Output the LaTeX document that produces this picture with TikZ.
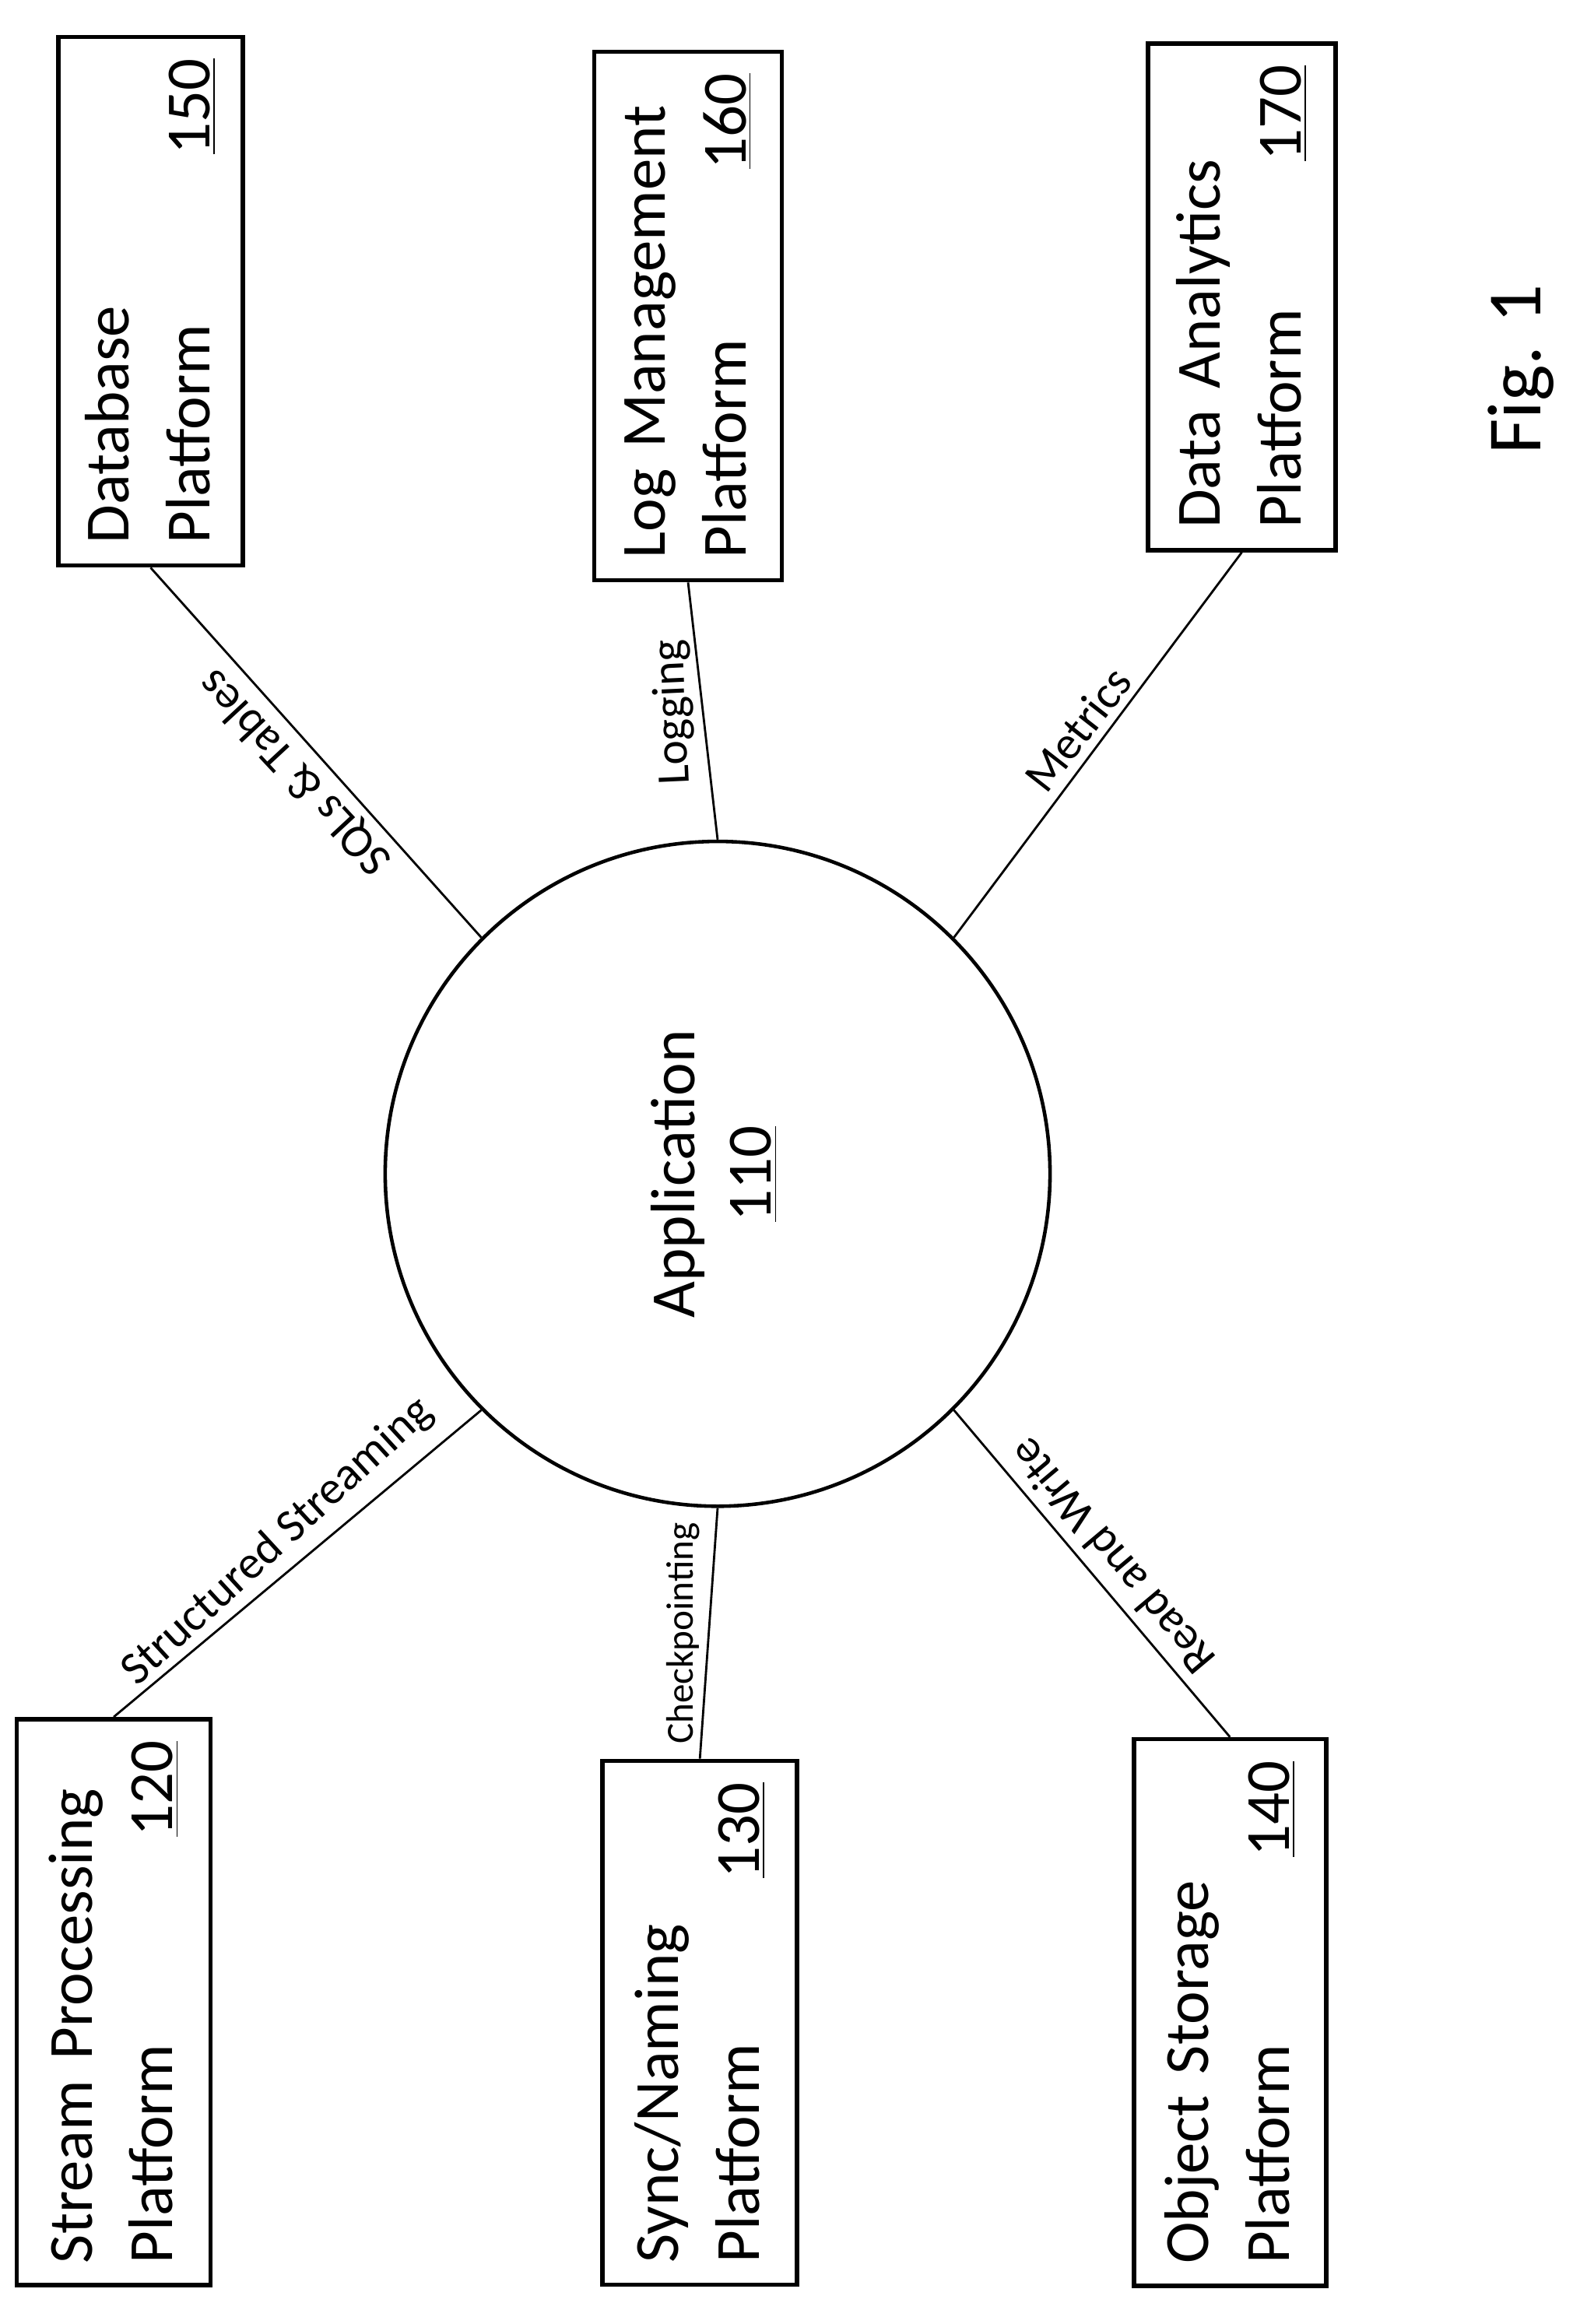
\documentclass[tikz,border=0pt]{standalone}
\usepackage{fontspec}
\setmainfont{Carlito}
\usetikzlibrary{positioning}
\tikzstyle{platform} = [draw=black, line width=1.6pt, rectangle, rotate=90, inner sep=0.28cm, align=left, font=\fontsize{23}{29.5}\selectfont]
\tikzstyle{link} = [draw=black, line width=0.8pt]
\tikzstyle{linklabel} = [midway, inner sep=3pt, font=\fontsize{17}{20}\selectfont]

\begin{document}
\begin{tikzpicture}[x=0.01897cm, y=-0.01897cm]
		\useasboundingbox (0,0) rectangle (1070,1574);
		\node (app) [circle, draw=black, line width=1.3pt, minimum size=8.54cm, font=\fontsize{23}{28}\selectfont] at (486,795) {\rotatebox{90}{\begin{tabular}{@{}c@{}}Application\\\underline{110}\end{tabular}}};
		
		\node (database) [platform, minimum width=6.79cm, minimum height=2.37cm, text width=6.23cm] at (102,204) {Database\\Platform\hfill\underline{150}};
		\node (logmgmt) [platform, minimum width=6.79cm, minimum height=2.41cm, text width=6.23cm] at (466,214) {Log Management\\Platform\hfill\underline{160}};
		\node (analytics) [platform, minimum width=6.51cm, minimum height=2.41cm, text width=5.95cm] at (841,201) {Data Analytics\\Platform\hfill\underline{170}};
		\node (stream) [platform, minimum width=7.27cm, minimum height=2.49cm, text width=6.71cm] at (77,1356) {Stream Processing\\Platform\hfill\underline{120}};
		\node (sync) [platform, minimum width=6.73cm, minimum height=2.50cm, text width=6.17cm] at (474,1370) {Sync/Naming\\Platform\hfill\underline{130}};
		\node (objstore) [platform, minimum width=7.02cm, minimum height=2.47cm, text width=6.46cm] at (833,1363) {Object Storage\\Platform\hfill\underline{140}};
		
		\draw [link] (app.135) -- node[linklabel, rotate=132.8, anchor=south]{SQLs \& Tables} (database.west);
		\draw [link] (app.90) -- node[linklabel, rotate=92.6, anchor=south]{Logging} (logmgmt.west);
		\draw [link] (app.45) -- node[linklabel, rotate=52, anchor=south]{Metrics} (analytics.west);
		\draw [link] (app.225) -- node[linklabel, rotate=42.5, anchor=south]{Structured Streaming} (stream.east);
		\draw [link] (app.270) -- node[linklabel, rotate=90, anchor=south, font=\fontsize{14}{17}\selectfont]{Checkpointing} (sync.east);
		\draw [link] (app.315) -- node[linklabel, rotate=130, anchor=north]{Read and Write} (objstore.east);
		
		\node (fig) [rotate=90, font=\fontsize{28}{32}\selectfont] at (1030,250) {Fig. 1};
	\end{tikzpicture}
\end{document}
